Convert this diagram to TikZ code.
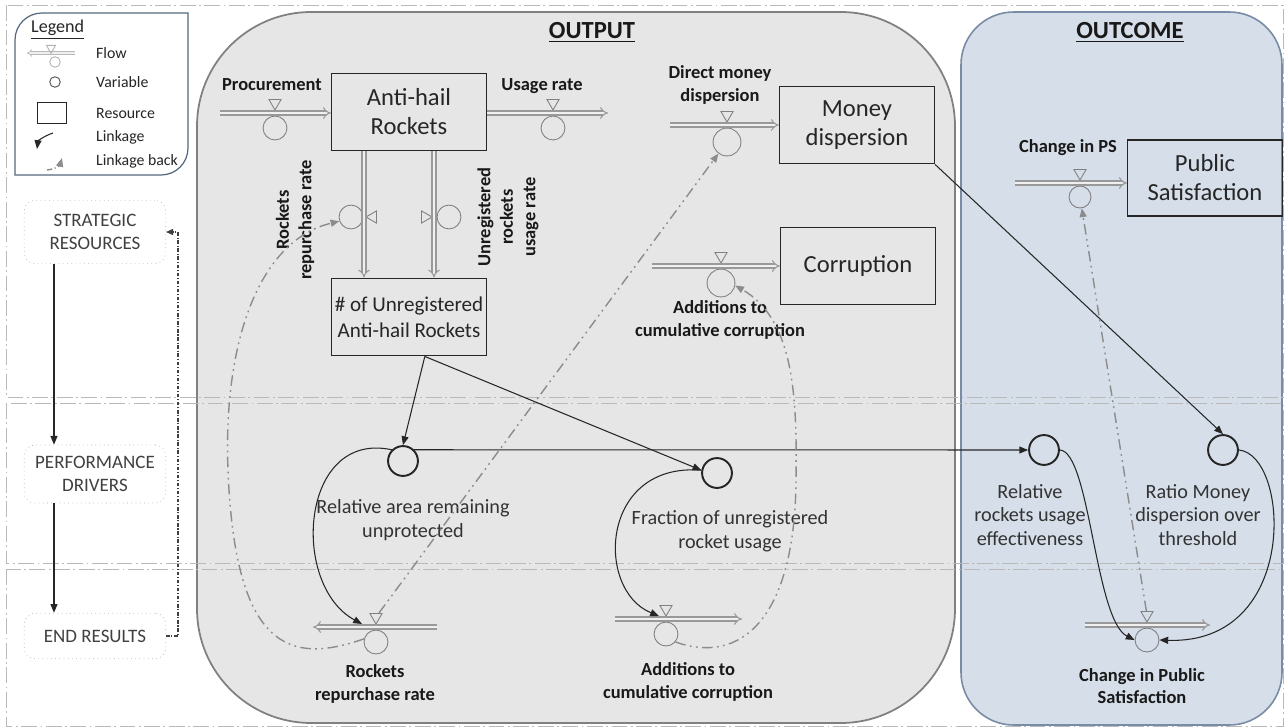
\documentclass[tikz,border=0pt]{standalone}
\usepackage{fontspec}
\setmainfont{Carlito}
\usetikzlibrary{arrows.meta,shapes.geometric}

\definecolor{outputfill}{RGB}{230,230,230}
\definecolor{outcomefill}{RGB}{213,222,233}
\definecolor{outcomeline}{RGB}{120,140,165}
\definecolor{lgdline}{RGB}{84,104,125}

\begin{document}
\begin{tikzpicture}[x=0.02cm,y=-0.02cm,
    band/.style={draw=gray!55, line width=0.5pt, dash pattern=on 9pt off 2pt on 1pt off 2pt},
    stock/.style={draw=black!85, line width=0.9pt, minimum width=88pt, minimum height=44pt,
        align=center, inner sep=1pt, text=black!85, font=\fontsize{14}{16.5}\selectfont},
    var/.style={circle, draw=black!85, line width=1.1pt, minimum size=17pt, inner sep=0pt},
    valve/.style={circle, draw=gray, line width=0.5pt, inner sep=0pt},
    vtri/.style={regular polygon, regular polygon sides=3, draw=gray, line width=0.5pt,
        minimum size=8pt, inner sep=0pt, shape border rotate=180},
    pipe/.style={draw=black!40, line width=0.6pt, double=gray!12, double distance=1.7pt, -{Implies}},
    link/.style={draw=black!85, line width=0.6pt, -{Triangle[length=5pt,width=4pt]}},
    back/.style={draw=black!45, line width=0.8pt,
        dash pattern=on 6pt off 2.5pt on 1pt off 2.5pt on 1pt off 2.5pt,
        -{Triangle[length=5pt,width=4pt]}},
    fb/.style={draw=black!75, line width=0.6pt, dash pattern=on 2pt off 1pt on 0.6pt off 1pt,
        -{Triangle[length=4pt,width=3.5pt]}},
    flbl/.style={font=\bfseries\fontsize{10.5}{12.8}\selectfont, align=center, text=black!90},
    vlbl/.style={font=\fontsize{11.5}{13.6}\selectfont, align=center, text=black!80},
    phase/.style={draw=gray!60, dotted, rounded corners=6pt, minimum width=80.5pt, align=center,
        text=black!75, font=\fontsize{10.8}{13}\selectfont},
    lgd/.style={anchor=west, font=\fontsize{9}{11}\selectfont, text=black!85},
    ttl/.style={font=\bfseries\fontsize{14}{16}\selectfont, text=black!90}
]
    \useasboundingbox (0,0) rectangle (1286,727);
    \fill[white] (0,0) rectangle (1286,727);

    % Output and outcome panels
    \draw[draw=black!50, line width=1pt, fill=outputfill, rounded corners=65pt] (197,12) rectangle (955,723);
    \draw[draw=outcomeline, line width=0.9pt, fill=outcomefill, rounded corners=30pt] (961,12) rectangle (1282,725);
    \node[ttl] (outputT) at (592,32) {\underline{OUTPUT}};
    \node[ttl] (outcomeT) at (1130,32) {\underline{OUTCOME}};

    % Dash-dot bands
    \foreach \ya/\yb in {5/397, 403/563, 569/726} {
        \draw[band] (6,\ya) rectangle (1283,\yb);
    }

    % Legend
    \draw[lgdline, line width=0.7pt, fill=white] (15,175) -- (15,40) .. controls (15,25) and (27,13) .. (42,13)
        -- (188,13) -- (188,148) .. controls (188,163) and (176,175) .. (161,175) -- cycle;
    \node[lgd, font=\fontsize{10.3}{12}\selectfont] (lgdT) at (25,30) {\underline{Legend}};
    \coordinate (lgA) at (75,53);
    \coordinate (lgB) at (27,53);
    \draw[pipe, draw=gray!55, line width=0.4pt, double distance=1pt] (lgA) -- (lgB);
    \node[vtri, draw=gray!60, minimum size=6pt] (lgTri) at (51,48) {};
    \node[valve, draw=gray!60, minimum size=6pt] (lgV) at (55,62) {};
    \node[lgd] (lgFlow) at (90,53) {Flow};
    \node[circle, draw=black!70, line width=0.5pt, minimum size=6pt, inner sep=0pt] (lgVar) at (55,82) {};
    \node[lgd] (lgVarT) at (90,82) {Variable};
    \node[draw=black!85, line width=0.6pt, minimum width=17pt, minimum height=12pt, inner sep=0pt] (lgRes) at (52,113) {};
    \node[lgd] (lgResT) at (90,113) {Resource};
    \coordinate (lgL1) at (53,133);
    \coordinate (lgL2) at (37,149);
    \draw[link] (lgL1) .. controls (44,136) and (38,141) .. (lgL2);
    \node[lgd] (lgLinkT) at (90,137) {Linkage};
    \coordinate (lgB1) at (47,170);
    \coordinate (lgB2) at (62,158);
    \draw[back, dash pattern=on 3pt off 1.5pt on 0.6pt off 1.5pt] (lgB1) .. controls (56,169) and (60,165) .. (lgB2);
    \node[lgd] (lgBackT) at (90,161) {Linkage back};

    % Balanced scorecard levels
    \node[phase, minimum height=36pt] (sr) at (95,232) {STRATEGIC\\RESOURCES};
    \node[phase, minimum height=33pt] (pd) at (95,474) {PERFORMANCE\\DRIVERS};
    \node[phase, minimum height=26pt] (er) at (95,636) {END RESULTS};
    \coordinate (phX) at (54,0);
    \coordinate (fbX) at (178,0);
    \draw[link, line width=0.7pt] (sr.south -| phX) -- (pd.north -| phX);
    \draw[link, line width=0.7pt] (pd.south -| phX) -- (er.north -| phX);
    \draw[fb] (er.east) -| (fbX |- sr.east) -- (sr.east);

    % Stocks
    \node[stock] (ahr) at (409,112) {Anti-hail\\Rockets};
    \node[stock, font=\fontsize{12}{15}\selectfont] (unreg) at (409,317) {\# of Unregistered\\Anti-hail Rockets};
    \node[stock] (money) at (857,125) {Money\\dispersion};
    \node[stock] (corr) at (858,266) {Corruption};
    \node[stock, minimum height=43pt] (ps) at (1205,178) {Public\\Satisfaction};

    % Horizontal valves: name/x/pipe y/circle radius
    \foreach \n/\x/\y/\r in {proc/275/113/12, usage/553/113/12, dmd/727/125/14, acc/721/266/14,
        cps/1080/183/11, rrpb/376/627/12, accb/666/619/12, cpsb/1147/625/12} {
        \node[vtri] (\n-t) at (\x,\y-10) {};
        \node[valve, minimum size=2*\r*0.567pt] (\n-c) at (\x,\y+\r+3) {};
    }
    % Vertical valves
    \node[valve, minimum size=13.6pt] (rp-c) at (351,217) {};
    \node[vtri, shape border rotate=90] (rp-t) at (373,217) {};
    \node[vtri, shape border rotate=-90] (ur-t) at (425,217) {};
    \node[valve, minimum size=13.6pt] (ur-c) at (449,217) {};

    % Pipes
    \coordinate (procS) at (220,113);
    \coordinate (usageE) at (608,113);
    \coordinate (rpX) at (364,0);
    \coordinate (urX) at (434,0);
    \coordinate (dmdS) at (670,125);
    \coordinate (accS) at (652,266);
    \coordinate (cpsS) at (1015,183);
    \coordinate (rrpbS) at (437,627);
    \coordinate (rrpbE) at (313,627);
    \coordinate (accbS) at (615,619);
    \coordinate (accbE) at (742,619);
    \coordinate (cpsbS) at (1085,625);
    \coordinate (cpsbE) at (1210,625);
    \draw[pipe] (procS) -- (ahr.west |- procS);
    \draw[pipe] (ahr.east |- usageE) -- (usageE);
    \draw[pipe] (ahr.south -| rpX) -- (unreg.north -| rpX);
    \draw[pipe] (ahr.south -| urX) -- (unreg.north -| urX);
    \draw[pipe] (dmdS) -- (money.west |- dmdS);
    \draw[pipe] (accS) -- (corr.west |- accS);
    \draw[pipe] (cpsS) -- (ps.west |- cpsS);
    \draw[pipe] (rrpbS) -- (rrpbE);
    \draw[pipe] (accbS) -- (accbE);
    \draw[pipe] (cpsbS) -- (cpsbE);

    % Flow labels
    \node[flbl] (procL) at (272,85) {Procurement};
    \node[flbl] (usageL) at (542,86) {Usage rate};
    \node[flbl] (dmdL) at (720,85) {Direct money\\dispersion};
    \node[flbl] (accL) at (720,320) {Additions to\\cumulative corruption};
    \node[flbl] (cpsL) at (1068,148) {Change in PS};
    \node[flbl, rotate=90] (rpL) at (295,220) {Rockets\\repurchase rate};
    \node[flbl, rotate=90] (urL) at (508,217) {Unregistered\\rockets\\usage rate};
    \node[flbl] (rrpbL) at (375,684) {Rockets\\repurchase rate};
    \node[flbl] (accbL) at (688,682) {Additions to\\cumulative corruption};
    \node[flbl] (cpsbL) at (1142,686) {Change in Public\\Satisfaction};

    % Variables
    \node[var] (rau) at (403,461) {};
    \node[var] (fur) at (717,473) {};
    \node[var] (rrue) at (1044,450) {};
    \node[var] (rmdt) at (1223,450) {};
    \node[vlbl] (rauL) at (413,520) {Relative area remaining\\unprotected};
    \node[vlbl] (furL) at (730,531) {Fraction of unregistered\\rocket usage};
    \node[vlbl] (rrueL) at (1030,515) {Relative\\rockets usage\\effectiveness};
    \node[vlbl] (rmdtL) at (1198,515) {Ratio Money\\dispersion over\\threshold};

    % Linkages
    \coordinate (rrpbIn) at (362,624);
    \coordinate (accbIn) at (659,616);
    \draw[link] ([xshift=9pt]unreg.south) -- (rau.north);
    \draw[link] ([xshift=9pt]unreg.south) -- (fur.170);
    \draw[link] (money.south east) -- (rmdt.north);
    \draw[link] (rau.north east) -- (rrue.west);
    \draw[link] (rau.north west) .. controls (300,430) and (290,585) .. (rrpbIn);
    \draw[link] (fur.170) .. controls (600,462) and (595,590) .. (accbIn);
    \draw[link] (rrue.east) .. controls (1090,452) and (1095,620) .. (cpsb-c.west);
    \draw[link] (rmdt.east) .. controls (1290,455) and (1300,645) .. (cpsb-c.east);

    % Linkages back
    \coordinate (bkA) at (228,470);
    \coordinate (bkB) at (796,480);
    \draw[back] (rrpb-c.165) .. controls (290,665) and (235,650) .. (bkA)
        .. controls (223,340) and (260,240) .. (rp-c.200);
    \draw[back] (rrpb-t) -- (dmd-c);
    \draw[back] (accb-c.-40) .. controls (740,665) and (795,620) .. (bkB)
        .. controls (797,400) and (795,320) .. (acc-c.-10);
    \draw[back] (cpsb-t) -- (cps-c);
\end{tikzpicture}
\end{document}
